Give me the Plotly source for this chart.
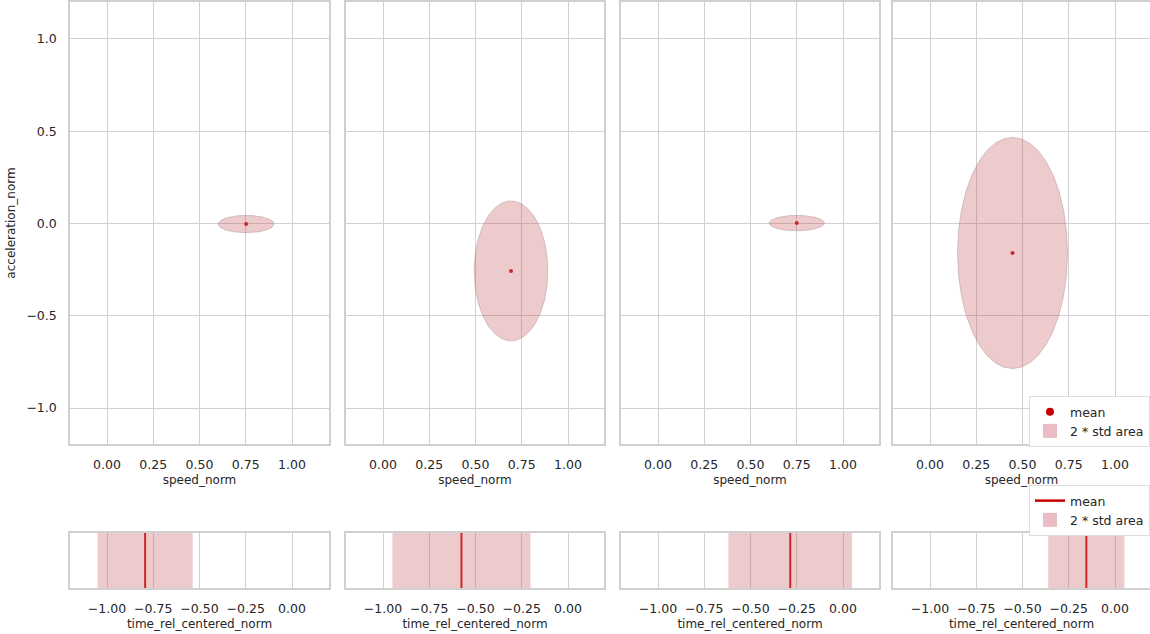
import numpy as np
import plotly.graph_objects as go

# ---- data ----
speed_mean = [0.752, 0.692, 0.750, 0.446]
accel_mean = [-0.003, -0.257, 0.002, -0.160]
speed_std = [0.0755, 0.0995, 0.0745, 0.1485]
accel_std = [0.0235, 0.1895, 0.021, 0.313]
time_mean = [-0.794, -0.576, -0.285, -0.155]
time_std = [0.1285, 0.1865, 0.167, 0.103]

speed_ticks = [0.0, 0.25, 0.5, 0.75, 1.0]
speed_ticktext = ["0.00", "0.25", "0.50", "0.75", "1.00"]
accel_ticks = [-1.0, -0.5, 0.0, 0.5, 1.0]
accel_ticktext = ["\u22121.0", "\u22120.5", "0.0", "0.5", "1.0"]
time_ticks = [-1.0, -0.75, -0.5, -0.25, 0.0]
time_ticktext = ["\u22121.00", "\u22120.75", "\u22120.50", "\u22120.25", "0.00"]

W, H = 1150, 634
FILL = "rgba(196,78,82,0.3)"
EDGE = "rgba(150,120,120,0.35)"
MEAN = "rgb(205,40,45)"
LEG_MEAN = "rgb(200,0,0)"
LEG_PATCH = "rgb(236,188,196)"
GRID = "#d0d0d0"
FONT = "DejaVu Sans"
TICK_FS = 12.5
TITLE_FS = 12

# panel pixel positions
left_px = [70, 346, 621, 893]
right_px = [329, 604, 879, 1150]
top_y = (2, 444)
bot_y = (533, 588)

fig = go.Figure()
t = np.linspace(0, 2 * np.pi, 200)

for i in range(4):
    n = i + 1
    xa, ya = f"x{n}", f"y{n}"
    ex = speed_mean[i] + 2 * speed_std[i] * np.cos(t)
    ey = accel_mean[i] + 2 * accel_std[i] * np.sin(t)
    fig.add_trace(go.Scatter(x=ex, y=ey, xaxis=xa, yaxis=ya, mode="lines",
                             fill="toself", fillcolor=FILL,
                             line=dict(color=EDGE, width=1),
                             showlegend=False, hoverinfo="skip"))
    fig.add_trace(go.Scatter(x=[speed_mean[i]], y=[accel_mean[i]], xaxis=xa, yaxis=ya,
                             mode="markers", marker=dict(color=MEAN, size=4),
                             showlegend=False))
    # bottom panels
    m = i + 5
    xb, yb = f"x{m}", f"y{m}"
    lo = time_mean[i] - 2 * time_std[i]
    hi = time_mean[i] + 2 * time_std[i]
    fig.add_trace(go.Scatter(x=[lo, hi, hi, lo, lo], y=[0, 0, 1, 1, 0], xaxis=xb, yaxis=yb,
                             mode="lines", fill="toself", fillcolor=FILL,
                             line=dict(width=0), showlegend=False, hoverinfo="skip"))
    fig.add_trace(go.Scatter(x=[time_mean[i], time_mean[i]], y=[0, 1], xaxis=xb, yaxis=yb,
                             mode="lines", line=dict(color=MEAN, width=2),
                             showlegend=False))

# legend entries
fig.add_trace(go.Scatter(x=[None], y=[None], xaxis="x4", yaxis="y4", mode="markers",
                         marker=dict(color=LEG_MEAN, size=8), name="mean", legend="legend"))
fig.add_trace(go.Scatter(x=[None], y=[None], xaxis="x4", yaxis="y4", mode="markers",
                         marker=dict(color=LEG_PATCH, size=14, symbol="square"),
                         name="2 * std area", legend="legend"))
fig.add_trace(go.Scatter(x=[None], y=[None], xaxis="x8", yaxis="y8", mode="lines",
                         line=dict(color=LEG_MEAN, width=2.5), name="mean", legend="legend2"))
fig.add_trace(go.Scatter(x=[None], y=[None], xaxis="x8", yaxis="y8", mode="markers",
                         marker=dict(color=LEG_PATCH, size=14, symbol="square"),
                         name="2 * std area", legend="legend2"))

layout = dict(
    width=W, height=H, margin=dict(l=0, r=0, t=0, b=0),
    paper_bgcolor="white", plot_bgcolor="white",
    font=dict(family=FONT, size=TICK_FS, color="#262626"),
    legend=dict(x=1.0, xanchor="right", y=1 - 396 / H, yanchor="top",
                bgcolor="white", bordercolor="#dddddd", borderwidth=1,
                font=dict(size=12.5), itemwidth=30, tracegroupgap=0),
    legend2=dict(x=1.0, xanchor="right", y=1 - 485 / H, yanchor="top",
                 bgcolor="white", bordercolor="#dddddd", borderwidth=1,
                 font=dict(size=12.5), itemwidth=30, tracegroupgap=0),
)

for i in range(4):
    n = i + 1
    l, r = left_px[i], right_px[i]
    dom_x = [l / W, r / W]
    xr_hi = -0.2 + (r - l) / 185.0
    last = (i == 3)
    layout[f"xaxis{n}"] = dict(
        domain=dom_x, anchor=f"y{n}", range=[-0.2, xr_hi],
        tickvals=speed_ticks, ticktext=speed_ticktext,
        showgrid=True, gridcolor=GRID, gridwidth=1.2, zeroline=False,
        showline=True, linecolor=GRID, linewidth=1.5, mirror=True,
        ticks="outside", ticklen=8, tickcolor="rgba(0,0,0,0)",
        title=dict(text="speed_norm", standoff=5, font=dict(size=TITLE_FS)),
        tickfont=dict(size=TICK_FS))
    layout[f"yaxis{n}"] = dict(
        domain=[1 - top_y[1] / H, 1 - top_y[0] / H], anchor=f"x{n}",
        range=[-1.195, 1.2],
        tickvals=accel_ticks, ticktext=accel_ticktext,
        showticklabels=(i == 0),
        showgrid=True, gridcolor=GRID, gridwidth=1.2, zeroline=False,
        showline=True, linecolor=GRID, linewidth=1.5, mirror=(not last),
        ticks="outside" if i == 0 else "", ticklen=9, tickcolor="rgba(0,0,0,0)",
        title=dict(text="acceleration_norm" if i == 0 else "", standoff=8,
                   font=dict(size=TITLE_FS)),
        tickfont=dict(size=TICK_FS))
    m = i + 5
    layout[f"xaxis{m}"] = dict(
        domain=dom_x, anchor=f"y{m}", range=[-1.2, -1.2 + (r - l) / 185.0],
        tickvals=time_ticks, ticktext=time_ticktext,
        showgrid=True, gridcolor=GRID, gridwidth=1.2, zeroline=False,
        showline=True, linecolor=GRID, linewidth=1.5, mirror=True,
        ticks="outside", ticklen=8, tickcolor="rgba(0,0,0,0)",
        title=dict(text="time_rel_centered_norm", standoff=5, font=dict(size=TITLE_FS)),
        tickfont=dict(size=TICK_FS))
    layout[f"yaxis{m}"] = dict(
        domain=[1 - bot_y[1] / H, 1 - bot_y[0] / H], anchor=f"x{m}",
        range=[0, 1], showticklabels=False, showgrid=False, zeroline=False,
        showline=True, linecolor=GRID, linewidth=1.5, mirror=(not last))

fig.update_layout(**layout)
fig.write_html("out.html")
